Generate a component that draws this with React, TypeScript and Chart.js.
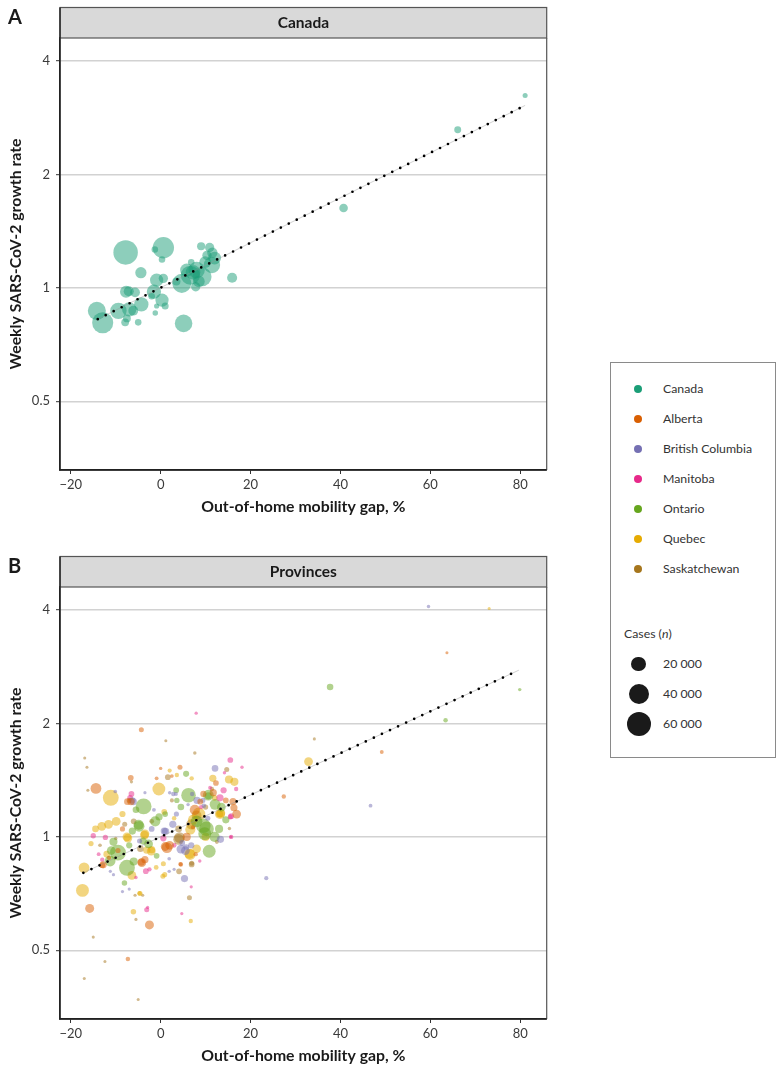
import React, { useEffect, useRef } from 'react';
import { Chart, registerables } from 'chart.js';

Chart.register(...registerables);

const FONT = 'Lato, "Noto Sans", "DejaVu Sans", sans-serif';

// ---------- axes ----------
const xTicks = [-20, 0, 20, 40, 60, 80];
const yTicks = [0.5, 1, 2, 4];
const xMin = -22.4;
const xMax = 85.9;
const yMin = 0.3286;
const yMax = 4.605;
const sizeBreaks = [20000, 40000, 60000];

// ---------- categories / colours ----------
const provinces = ['Canada', 'Alberta', 'British Columbia', 'Manitoba', 'Ontario', 'Quebec', 'Saskatchewan'];
const palette = ['#1b9e77', '#d95f02', '#7570b3', '#e7298a', '#66a61e', '#e6ab02', '#a6761d'];

// ---------- Panel A: Canada ----------
const canadaX = [-7.8, 0.6, -1.3, 0.3, -4.4, 9.0, 10.9, 10.3, 11.4, 9.9, 15.9, 6.8, 6.6, 4.7, 9.2, 8.0, 7.8, 5.8, 5.1, 0.6, -0.9, -1.5, 0.3, 1.0, -0.9, -1.2, -7.7, -7.1, -5.7, -4.3, -7.0, -6.1, -9.4, -14.2, -12.9, -7.5, -5.0, -7.9, 40.7, 66.1, 81.1, 7.2, 8.5, 3.5, 11.5, 12.0, -2.0];
const canadaY = [1.242, 1.278, 1.265, 1.19, 1.097, 1.29, 1.28, 1.22, 1.15, 1.17, 1.064, 1.17, 1.08, 1.028, 1.07, 1.115, 1.007, 1.115, 0.805, 1.06, 1.049, 0.977, 0.928, 0.895, 0.895, 0.858, 0.977, 0.98, 0.973, 0.904, 0.877, 0.87, 0.869, 0.869, 0.808, 0.83, 0.81, 0.81, 1.63, 2.63, 3.24, 1.1, 1.04, 1.04, 1.24, 1.2, 0.95];
const canadaCases = [62000, 46000, 2900, 2900, 11000, 5000, 7000, 7000, 26000, 12000, 8500, 2900, 36000, 36000, 36000, 26000, 7000, 16000, 30000, 7000, 16000, 19000, 16000, 3500, 1500, 1800, 13000, 8500, 8000, 19000, 19000, 8000, 26000, 32000, 45000, 4500, 2900, 4500, 5800, 3400, 1400, 20000, 12000, 5000, 9000, 15000, 3000];
const trendAX = [-14.0, 81.1];
const trendAY = [0.826, 3.05];

// ---------- Panel B: provinces ----------
const albertaX = [63.7, -4.3, 49.2, 27.4, -14.4, 4.3, -0.9, 12.3, -6.65, -6.6, -7.4, 11.7, 16.1, 16.3, 16.9, 7.6, 8.8, -15.8, -2.5, -7.3, -13.0, -12.8, -4.2, -3.5, 1.4, 2.0, 1.0, 4.5, 4.4, -4.3, 7.2, 5.8, -9.5, 7.8, -11.5, 2.5, 9.5, 14.5, -8.5, 0.0];
const albertaY = [3.08, 1.925, 1.68, 1.28, 1.345, 1.53, 1.43, 1.39, 1.435, 1.24, 1.24, 1.31, 1.24, 1.195, 1.15, 1.18, 1.24, 0.646, 0.584, 0.474, 0.841, 0.843, 0.854, 0.87, 0.936, 0.95, 0.943, 0.845, 0.847, 0.857, 1.06, 1.0, 0.92, 0.9, 0.88, 1.45, 1.3, 1.25, 1.05, 1.52];
const albertaCases = [250, 1400, 600, 900, 10000, 1400, 600, 2000, 2000, 3700, 3000, 3700, 3700, 3700, 6100, 8700, 2000, 6500, 6500, 1000, 2000, 3700, 6100, 3700, 10000, 6000, 6100, 900, 900, 3700, 900, 5000, 1500, 900, 900, 500, 2500, 2000, 1500, 400];

const bcX = [59.6, 46.7, 23.5, 12.1, -10.1, 2.8, 3.4, 2.0, 6.1, 8.1, 9.4, -6.1, -3.5, 0.8, 1.9, 1.9, 4.5, 5.5, 5.3, 13.3, 4.8, 5.7, 1.1, 2.7, -4.7, -10.5, -11.2, -8.5, -7.0, 3.0, -6.3, 9.6, -1.5, 3.5, 7.0, 10.5, -2.0, 6.8];
const bcY = [4.09, 1.21, 0.777, 1.52, 1.32, 1.30, 1.30, 1.31, 1.218, 1.25, 1.25, 1.24, 1.31, 1.036, 0.875, 0.81, 0.928, 0.92, 0.775, 0.985, 0.964, 0.94, 1.035, 1.08, 0.975, 0.794, 0.81, 0.716, 0.727, 0.82, 1.25, 1.21, 1.18, 1.15, 1.3, 1.12, 1.05, 0.95];
const bcCases = [400, 600, 800, 3000, 500, 900, 600, 400, 400, 3700, 1400, 3700, 300, 3700, 500, 400, 6100, 6100, 3700, 3700, 2000, 2000, 3700, 3700, 1400, 300, 300, 300, 300, 300, 2500, 1000, 600, 1500, 900, 1400, 2000, 2500];

const manitobaX = [7.9, 15.5, 18.1, 14.2, -6.8, 13.2, 15.7, 16.8, -15.0, -12.3, -3.3, -2.5, 0.6, 8.7, 6.8, 4.7, -3.1, -2.9, 15.6, 15.7, 15.5, -13.0, -6.5, 14.0, -13.8, 9.0, 11.0, -5.5, 3.0];
const manitobaY = [2.13, 1.60, 1.53, 1.48, 1.27, 1.27, 1.135, 1.34, 1.007, 0.997, 0.811, 0.82, 0.991, 0.863, 0.737, 0.626, 0.641, 0.65, 1.0, 1.0, 1.13, 0.87, 1.3, 1.33, 0.9, 1.2, 1.35, 0.78, 0.95];
const manitobaCases = [350, 2000, 400, 400, 2000, 3700, 2000, 900, 1600, 1600, 2000, 900, 2500, 400, 300, 300, 1400, 300, 300, 900, 1400, 900, 2000, 2500, 600, 900, 600, 400, 1200];

const ontarioX = [37.7, 79.9, 63.4, -3.8, 6.2, 5.66, 3.6, 10.6, 12.1, -9.5, -7.5, -11.25, -8.06, -6.3, -4.8, -2.7, 10.8, 9.5, 10.2, 9.8, 12.0, 14.5, 13.5, -4.9, -1.2, -0.36, 3.45, 10.6, -3.9, -0.9, -11.0, -6.0, 8.0, -10.5, -5.5, 1.0, 13.0, -7.0, 4.5];
const ontarioY = [2.50, 2.46, 2.04, 1.205, 1.29, 1.47, 1.25, 1.285, 1.22, 0.908, 0.828, 0.863, 0.754, 1.036, 1.067, 0.958, 0.916, 1.07, 1.05, 1.02, 1.0, 1.11, 1.2, 1.077, 1.10, 1.13, 1.33, 1.29, 0.975, 0.891, 0.92, 0.86, 1.1, 0.97, 1.18, 1.15, 1.05, 0.95, 1.2];
const ontarioCases = [2900, 400, 1000, 24000, 20000, 2400, 1700, 3700, 10000, 24000, 24000, 10000, 1800, 3700, 10000, 6100, 15000, 20000, 20000, 15000, 8700, 3700, 6000, 8700, 8700, 3700, 2000, 10000, 3700, 2000, 6000, 5000, 12000, 5000, 3000, 2000, 5000, 2500, 3000];

const quebecX = [73.1, 32.9, -11.1, -0.4, 3.6, 6.9, 11.6, 15.2, 16.4, 13.2, -13.1, -11.6, -9.9, -17.04, -17.4, -6.4, -7.3, -3.6, -2.1, 0.6, 0.5, 0.9, 6.55, 8.0, 6.4, 6.6, 7.2, 8.5, -4.6, -6.07, 6.7, -4.7, -7.5, -3.5, 0.8, 13.1, 13.4, -3.1, -2.0, 3.0, -12.0, -14.5, -8.5, 2.0, 10.0, -1.0, 12.0, -15.5];
const quebecY = [4.04, 1.585, 1.27, 1.34, 1.46, 1.43, 1.43, 1.42, 1.40, 1.15, 1.067, 1.08, 1.10, 0.828, 0.721, 0.79, 0.993, 1.011, 0.917, 0.849, 0.786, 0.794, 0.898, 0.93, 0.902, 1.046, 1.11, 1.15, 0.708, 0.633, 0.598, 0.709, 1.0, 1.019, 1.165, 1.15, 1.157, 0.922, 0.925, 1.12, 0.9, 1.05, 1.15, 1.5, 1.0, 0.83, 1.27, 0.96];
const quebecCases = [250, 6100, 24000, 15000, 900, 900, 3700, 5000, 5000, 8700, 6100, 6100, 6100, 10000, 15000, 6100, 6100, 6100, 6100, 1400, 1400, 1400, 10000, 6000, 8700, 8700, 8700, 15000, 1400, 1800, 900, 1000, 6100, 6100, 2000, 3700, 6100, 3700, 3700, 1000, 3000, 3000, 2500, 800, 5000, 1200, 2000, 1500];

const saskX = [1.15, 34.2, 7.6, -16.9, -16.4, -16.2, 14.7, 1.6, -6.5, 11.4, 6.8, 4.2, 4.0, 6.9, 4.1, 6.9, 6.4, -5.5, -15.0, -12.4, -17.0, -5.0, -7.0, -5.7, -4.0, 15.3, -10.0, -6.0, -8.0, 8.0, 4.0, -4.5, -13.5, 10.0, 2.5, -2.0, 12.5];
const saskY = [1.80, 1.82, 1.67, 1.62, 1.53, 1.33, 1.51, 1.44, 1.40, 1.34, 1.08, 0.996, 0.985, 0.845, 0.81, 0.851, 0.689, 0.604, 0.542, 0.467, 0.421, 0.370, 1.25, 0.70, 0.70, 1.053, 0.99, 1.1, 1.08, 1.14, 1.05, 0.93, 0.95, 1.2, 1.25, 1.1, 0.97];
const saskCases = [250, 250, 400, 250, 250, 250, 1400, 2000, 300, 900, 8700, 10000, 10000, 2000, 2000, 1400, 1400, 300, 250, 250, 250, 250, 1400, 300, 300, 400, 400, 2000, 1400, 8000, 3000, 3000, 500, 1500, 700, 1200, 700];

const trendBX = [-17.2, 79.7];
const trendBY = [0.803, 2.77];

// ---------- helpers ----------
function radiusOf(n: number): number {
  return 0.8 + 6.5 * Math.sqrt(n / 20000);
}
function withAlpha(hex: string, a: number): string {
  const r = parseInt(hex.slice(1, 3), 16);
  const g = parseInt(hex.slice(3, 5), 16);
  const b = parseInt(hex.slice(5, 7), 16);
  return `rgba(${r},${g},${b},${a})`;
}
function pts(xs: number[], ys: number[], ns: number[]) {
  return xs.map((x, i) => ({ x, y: ys[i], n: ns[i] }));
}
function fmtTick(v: number): string {
  return v < 0 ? '\u2212' + Math.abs(v) : String(v);
}

const panelPlugin = {
  id: 'panelDecor',
  afterDraw(chart: any, _args: any, opts: any) {
    const { ctx, chartArea: a } = chart;
    const stripH = 30.5;
    ctx.save();
    ctx.fillStyle = '#d9d9d9';
    ctx.fillRect(a.left, a.top - stripH, a.right - a.left, stripH);
    ctx.strokeStyle = '#555';
    ctx.lineWidth = 1.2;
    ctx.strokeRect(a.left, a.top - stripH, a.right - a.left, stripH);
    ctx.beginPath();
    ctx.moveTo(a.right, a.top);
    ctx.lineTo(a.right, a.bottom);
    ctx.stroke();
    ctx.strokeStyle = '#222';
    ctx.lineWidth = 1.4;
    ctx.beginPath();
    ctx.moveTo(a.left, a.top - stripH);
    ctx.lineTo(a.left, a.bottom);
    ctx.lineTo(a.right, a.bottom);
    ctx.stroke();
    ctx.fillStyle = '#1a1a1a';
    ctx.font = `bold 15.5px ${FONT}`;
    ctx.textAlign = 'center';
    ctx.textBaseline = 'middle';
    ctx.fillText(opts.strip, (a.left + a.right) / 2, a.top - stripH / 2);
    ctx.font = `bold 20px ${FONT}`;
    ctx.textAlign = 'left';
    ctx.textBaseline = 'alphabetic';
    ctx.fillText(opts.letter, 8, a.top - 14.5);
    ctx.restore();
  },
};

function makeConfig(series: { label: string; color: string; data: any[] }[], tx: number[], ty: number[], strip: string, letter: string): any {
  const trend = tx.map((x, i) => ({ x, y: ty[i] }));
  const datasets: any[] = [
    {
      label: 'trend-dots',
      data: trend,
      showLine: true,
      pointRadius: 0,
      borderColor: '#000',
      borderWidth: 2.7,
      borderDash: [0, 8.9],
      borderCapStyle: 'round',
      fill: false,
      order: 0,
    },
    {
      label: 'trend-line',
      data: trend,
      showLine: true,
      pointRadius: 0,
      borderColor: 'rgba(150,150,150,0.55)',
      borderWidth: 0.8,
      fill: false,
      order: 1,
    },
  ];
  series.forEach((s, i) => {
    datasets.push({
      label: s.label,
      data: s.data,
      showLine: false,
      backgroundColor: withAlpha(s.color, 0.5),
      borderWidth: 0,
      pointBorderWidth: 0,
      pointRadius: (ctx: any) => radiusOf(ctx.raw ? ctx.raw.n : 1000),
      pointHoverRadius: (ctx: any) => radiusOf(ctx.raw ? ctx.raw.n : 1000),
      order: 2 + i,
    });
  });
  return {
    type: 'scatter',
    data: { datasets },
    plugins: [panelPlugin],
    options: {
      responsive: false,
      animation: false,
      devicePixelRatio: 1,
      layout: { padding: { top: 38, right: 13.3, left: 0, bottom: 0 } },
      plugins: {
        legend: { display: false },
        tooltip: { enabled: false },
        panelDecor: { strip, letter },
      },
      scales: {
        x: {
          type: 'linear',
          bounds: 'data',
          min: xMin,
          max: xMax,
          afterBuildTicks: (s: any) => {
            s.ticks = xTicks.map((v) => ({ value: v }));
          },
          afterFit: (s: any) => {
            s.height = 50;
          },
          ticks: {
            callback: (v: any) => fmtTick(Number(v)),
            font: { family: FONT, size: 13 },
            color: '#3a3a3a',
            padding: 3,
            maxRotation: 0,
            autoSkip: false,
          },
          grid: { drawOnChartArea: false, drawTicks: true, tickLength: 4, tickColor: '#333', tickWidth: 1 },
          border: { display: true, color: '#222', width: 1.4 },
          title: {
            display: true,
            text: 'Out-of-home mobility gap, %',
            font: { family: FONT, size: 15.8, weight: 'bold' },
            color: '#1a1a1a',
            padding: { top: 4, bottom: 4 },
          },
        },
        y: {
          type: 'logarithmic',
          bounds: 'data',
          min: yMin,
          max: yMax,
          afterBuildTicks: (s: any) => {
            s.ticks = yTicks.map((v) => ({ value: v }));
          },
          afterFit: (s: any) => {
            s.width = 60;
          },
          ticks: {
            callback: (v: any) => String(v),
            font: { family: FONT, size: 13 },
            color: '#3a3a3a',
            padding: 6,
            autoSkip: false,
          },
          grid: { color: '#d2d2d2', lineWidth: 1.4, drawTicks: true, tickLength: 4, tickColor: '#333', tickWidth: 1 },
          border: { display: true, color: '#222', width: 1.4 },
          title: {
            display: true,
            text: 'Weekly SARS-CoV-2 growth rate',
            font: { family: FONT, size: 15.8, weight: 'bold' },
            color: '#1a1a1a',
            padding: { top: 6, bottom: 4 },
          },
        },
      },
    },
  };
}

function Panel({ top, series, tx, ty, strip, letter }: any) {
  const ref = useRef<HTMLCanvasElement | null>(null);
  useEffect(() => {
    if (!ref.current) return;
    const chart = new Chart(ref.current, makeConfig(series, tx, ty, strip, letter));
    return () => chart.destroy();
  }, []);
  return (
    <canvas
      ref={ref}
      width={560}
      height={520}
      style={{ position: 'absolute', left: 0, top, width: 560, height: 520 }}
    />
  );
}

const textStyle: React.CSSProperties = {
  position: 'absolute',
  fontFamily: FONT,
  fontSize: 12.3,
  color: '#333',
  height: 20,
  lineHeight: '20px',
  whiteSpace: 'nowrap',
};

function Legend() {
  const left = 610;
  const top = 362;
  const rowY = (i: number) => 389.3 + 30 * i;
  const sizeY = [664, 694.3, 724.3];
  return (
    <div>
      <div
        style={{
          position: 'absolute',
          left,
          top,
          width: 164,
          height: 394,
          border: '1.2px solid #8a8a8a',
          background: '#fff',
        }}
      />
      {provinces.map((p, i) => (
        <React.Fragment key={p}>
          <div
            style={{
              position: 'absolute',
              left: 638.3 - 4,
              top: rowY(i) - 4,
              width: 8,
              height: 8,
              borderRadius: '50%',
              background: palette[i],
            }}
          />
          <div style={{ ...textStyle, left: 663, top: rowY(i) - 10 }}>{p}</div>
        </React.Fragment>
      ))}
      <div style={{ ...textStyle, left: 624, top: 634 - 10 }}>
        Cases (<i>n</i>)
      </div>
      {sizeBreaks.map((b, i) => {
        const r = radiusOf(b);
        return (
          <React.Fragment key={b}>
            <div
              style={{
                position: 'absolute',
                left: 638.7 - r,
                top: sizeY[i] - r,
                width: 2 * r,
                height: 2 * r,
                borderRadius: '50%',
                background: '#1a1a1a',
              }}
            />
            <div style={{ ...textStyle, left: 663, top: sizeY[i] - 10 }}>
              {b.toLocaleString('en-US').replace(/,/g, ' ')}
            </div>
          </React.Fragment>
        );
      })}
    </div>
  );
}

export default function App() {
  const seriesA = [{ label: 'Canada', color: palette[0], data: pts(canadaX, canadaY, canadaCases) }];
  const seriesB = [
    { label: 'Alberta', color: palette[1], data: pts(albertaX, albertaY, albertaCases) },
    { label: 'British Columbia', color: palette[2], data: pts(bcX, bcY, bcCases) },
    { label: 'Manitoba', color: palette[3], data: pts(manitobaX, manitobaY, manitobaCases) },
    { label: 'Ontario', color: palette[4], data: pts(ontarioX, ontarioY, ontarioCases) },
    { label: 'Quebec', color: palette[5], data: pts(quebecX, quebecY, quebecCases) },
    { label: 'Saskatchewan', color: palette[6], data: pts(saskX, saskY, saskCases) },
  ];
  return (
    <div style={{ position: 'absolute', left: 0, top: 0, width: 784, height: 1071, background: '#fff' }}>
      <Panel top={0} series={seriesA} tx={trendAX} ty={trendAY} strip="Canada" letter="A" />
      <Panel top={548.5} series={seriesB} tx={trendBX} ty={trendBY} strip="Provinces" letter="B" />
      <Legend />
    </div>
  );
}
